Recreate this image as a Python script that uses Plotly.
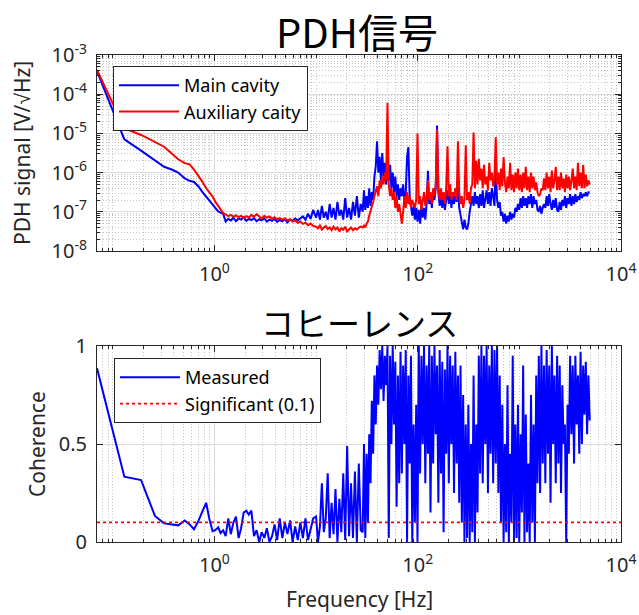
import plotly.graph_objects as go

# ---------------------------------------------------------------- data
# Frequency bins [Hz] (finer spacing above ~30 Hz)
freq = [
    # 0.07 - 1.15 Hz
    0.07, 0.13, 0.19, 0.26, 0.32, 0.38, 0.44, 0.51, 0.57, 0.63,
    0.70, 0.76, 0.83, 0.89, 0.96, 1.02, 1.09, 1.15,
    # 1.2 - 10 Hz
    1.22, 1.29, 1.37, 1.45, 1.54, 1.63, 1.73, 1.83, 1.94, 2.06,
    2.18, 2.31, 2.45, 2.60, 2.76, 2.92, 3.10, 3.28, 3.48, 3.69,
    3.91, 4.14, 4.39, 4.66, 4.94, 5.23, 5.55, 5.88, 6.23, 6.61,
    7.00, 7.42, 7.87, 8.34, 8.84, 9.37,
    # 10 - 28 Hz
    10.0, 10.45, 10.92, 11.41, 11.92, 12.46, 13.02, 13.61, 14.22, 14.86,
    15.53, 16.23, 16.96, 17.72, 18.52, 19.35, 20.22, 21.13, 22.08, 23.08,
    24.12, 25.2, 26.34, 27.52,
    # 28 Hz - 5 kHz
    28.76, 29.62, 30.51, 31.43, 32.37, 33.34, 34.34, 35.37, 36.43, 37.53,
    38.65, 39.81, 41.01, 42.24, 43.5, 44.81, 46.15, 47.54, 48.96, 50.43,
    51.95, 53.5, 55.11, 56.76, 58.47, 60.22, 62.02, 63.89, 65.8, 67.78,
    69.81, 71.9, 74.06, 76.28, 78.57, 80.93, 83.36, 85.86, 88.43, 91.09,
    93.82, 96.63, 99.53, 102.5, 105.6, 108.8, 112.0, 115.4, 118.8, 122.4,
    126.1, 129.8, 133.7, 137.8, 141.9, 146.1, 150.5, 155.0, 159.7, 164.5,
    169.4, 174.5, 179.7, 185.1, 190.7, 196.4, 202.3, 208.4, 214.6, 221.0,
    227.7, 234.5, 241.5, 248.8, 256.2, 263.9, 271.8, 280.0, 288.4, 297.0,
    305.9, 315.1, 324.6, 334.3, 344.3, 354.7, 365.3, 376.2, 387.5, 399.2,
    411.1, 423.5, 436.2, 449.2, 462.7, 476.6, 490.9, 505.6, 520.8, 536.4,
    552.5, 569.1, 586.1, 603.7, 621.8, 640.5, 659.7, 679.5, 699.9, 720.9,
    742.5, 764.8, 787.7, 811.4, 835.7, 860.8, 886.6, 913.2, 940.6, 968.8,
    997.9, 1028, 1059, 1090, 1123, 1157, 1191, 1227, 1264, 1302,
    1341, 1381, 1422, 1465, 1509, 1554, 1601, 1649, 1698, 1749,
    1802, 1856, 1911, 1969, 2028, 2088, 2151, 2216, 2282, 2351,
    2421, 2494, 2569, 2646, 2725, 2807, 2891, 2978, 3067, 3159,
    3254, 3352, 3452, 3556, 3662, 3772, 3886, 4002, 4122, 4246,
    4373, 4505, 4640, 4779, 4922,
]

# PDH error-signal ASD of the main cavity [V/sqrt(Hz)]
main_cavity = [
    3.8e-4, 7.08e-6, 3.63e-6, 2.0e-6, 1.41e-6, 1.2e-6, 1.0e-6, 7.08e-7, 6.17e-7, 5.75e-7,
    4.37e-7, 3.24e-7, 2.45e-7, 1.91e-7, 1.48e-7, 1.2e-7, 1.02e-7, 9.55e-8,
    8.91e-8, 5.62e-8, 6.61e-8, 6.03e-8, 7.08e-8, 5.75e-8, 6.76e-8, 6.31e-8, 7.24e-8, 5.89e-8,
    6.61e-8, 6.17e-8, 6.92e-8, 5.75e-8, 6.46e-8, 6.03e-8, 6.76e-8, 5.62e-8, 6.31e-8, 5.89e-8,
    6.61e-8, 5.5e-8, 6.17e-8, 5.75e-8, 6.46e-8, 5.37e-8, 6.31e-8, 5.89e-8, 6.76e-8, 6.03e-8,
    6.61e-8, 7.59e-8, 6.31e-8, 8.91e-8, 6.61e-8, 1.12e-7,
    7.08e-8, 1.12e-7, 6.31e-8, 1.41e-7, 7.08e-8, 1.0e-7, 6.31e-8, 1.58e-7, 7.08e-8, 1.26e-7,
    6.31e-8, 1.78e-7, 7.94e-8, 1.12e-7, 6.31e-8, 2.24e-7, 7.08e-8, 1.26e-7, 6.31e-8, 1.78e-7,
    7.94e-8, 2.51e-7, 7.08e-8, 1.58e-7,
    1.0e-7, 3.55e-7, 1.12e-7, 2.51e-7, 1.26e-7, 3.98e-7, 1.41e-7, 3.16e-7, 2.0e-7, 7.94e-7,
    1.41e-6, 6.31e-6, 1.0e-6, 2.51e-6, 6.31e-7, 3.16e-6, 7.94e-7, 1.78e-6, 5.01e-7, 1.26e-6,
    6.31e-7, 1.58e-6, 3.98e-7, 1.0e-6, 3.16e-7, 7.94e-7, 2.51e-7, 5.01e-7, 2.0e-7, 3.98e-7,
    2.51e-7, 5.01e-7, 1.78e-7, 3.16e-7, 2.51e-6, 4.47e-6, 2.51e-7, 1.26e-7, 7.94e-8, 1.41e-7,
    6.31e-8, 1.26e-7, 5.62e-8, 1.12e-7, 5.01e-8, 1.41e-7, 7.08e-8, 1.26e-7, 6.31e-8, 1.58e-7,
    1.12e-6, 1.58e-7, 2.51e-7, 1.26e-7, 3.16e-7, 2.0e-7, 3.98e-7, 1.58e-5, 3.16e-7, 1.41e-7,
    2.51e-7, 1.26e-7, 2.82e-7, 1.12e-7, 2.51e-7, 3.55e-7, 1.58e-7, 3.16e-7, 1.26e-7, 2.51e-7,
    1.58e-7, 3.16e-7, 1.78e-7, 4.47e-7, 1.26e-7, 7.94e-8, 5.01e-8, 3.55e-8, 6.31e-8, 3.98e-8,
    3.55e-8, 5.01e-8, 1.0e-7, 1.58e-7, 2.51e-7, 1.41e-7, 3.16e-7, 1.58e-7, 2.51e-7, 1.26e-7,
    2.82e-7, 1.41e-7, 3.55e-7, 1.26e-7, 2.51e-7, 3.55e-7, 1.58e-7, 3.16e-7, 1.41e-7, 3.98e-7,
    2.51e-7, 1.41e-7, 1.58e-6, 2.0e-7, 1.26e-7, 1.78e-7, 7.94e-8, 1.0e-7, 5.62e-8, 8.91e-8,
    5.01e-8, 7.94e-8, 5.62e-8, 1.0e-7, 6.31e-8, 8.91e-8, 7.08e-8, 1.26e-7, 1.0e-7, 1.58e-7,
    1.12e-7, 2.24e-7, 1.26e-7, 2.51e-7, 1.41e-7, 2.24e-7, 1.26e-7, 2.51e-7, 1.58e-7, 2.82e-7,
    1.26e-7, 2.51e-7, 1.58e-7, 2.0e-7, 1.12e-7, 1.0e-7, 1.41e-7, 8.91e-8, 1.26e-7, 1.58e-7,
    1.26e-7, 2.51e-7, 1.41e-7, 2.82e-7, 1.58e-7, 1.12e-7, 2.0e-7, 1.26e-7, 2.24e-7, 1.12e-7,
    1.0e-7, 1.78e-7, 1.12e-7, 2.0e-7, 1.41e-7, 2.51e-7, 1.26e-7, 2.24e-7, 1.58e-7, 2.82e-7,
    1.41e-7, 2.51e-7, 1.58e-7, 2.82e-7, 1.78e-7, 2.51e-7, 2.0e-7, 3.16e-7, 2.24e-7, 2.82e-7,
    2.51e-7, 3.16e-7, 2.51e-7, 3.16e-7, 3.16e-7,
]

# PDH error-signal ASD of the auxiliary cavity [V/sqrt(Hz)]
aux_cavity = [
    4.17e-4, 1.35e-5, 9.12e-6, 6.17e-6, 4.57e-6, 3.09e-6, 2.19e-6, 1.74e-6, 1.62e-6, 1.2e-6,
    8.13e-7, 5.89e-7, 3.98e-7, 3.09e-7, 2.45e-7, 1.82e-7, 1.35e-7, 1.15e-7,
    9.33e-8, 8.71e-8, 7.76e-8, 8.32e-8, 7.41e-8, 8.13e-8, 7.24e-8, 7.94e-8, 6.92e-8, 7.76e-8,
    7.08e-8, 8.32e-8, 7.41e-8, 8.71e-8, 7.59e-8, 6.76e-8, 7.94e-8, 7.08e-8, 7.59e-8, 6.61e-8,
    7.24e-8, 6.46e-8, 6.92e-8, 6.31e-8, 6.76e-8, 6.03e-8, 6.46e-8, 5.62e-8, 6.03e-8, 5.25e-8,
    5.62e-8, 4.9e-8, 5.25e-8, 4.57e-8, 5.01e-8, 4.37e-8,
    4.17e-8, 3.8e-8, 4.47e-8, 3.55e-8, 3.98e-8, 4.37e-8, 3.63e-8, 3.98e-8, 3.39e-8, 4.17e-8,
    3.55e-8, 3.98e-8, 3.16e-8, 3.8e-8, 3.47e-8, 4.17e-8, 3.16e-8, 3.63e-8, 3.98e-8, 3.39e-8,
    3.8e-8, 3.55e-8, 3.98e-8, 4.17e-8,
    3.98e-8, 4.47e-8, 3.98e-8, 5.01e-8, 5.62e-8, 7.94e-8, 1.0e-7, 1.41e-7, 1.78e-7, 2.51e-7,
    3.16e-7, 4.47e-7, 2.51e-7, 6.31e-7, 3.98e-7, 7.94e-7, 5.01e-7, 1.0e-6, 6.31e-7, 6.03e-5,
    5.01e-7, 2.51e-7, 3.98e-7, 2.0e-7, 3.16e-7, 1.26e-7, 2.51e-7, 1.0e-7, 1.58e-7, 7.94e-8,
    5.01e-8, 1.0e-7, 2.51e-7, 1.26e-7, 3.16e-7, 1.58e-7, 2.51e-7, 1.26e-7, 2.0e-7, 1.58e-7,
    1.26e-7, 2.0e-7, 1.0e-5, 1.58e-7, 2.51e-7, 1.12e-7, 2.0e-7, 3.16e-7, 1.41e-7, 2.51e-7,
    6.31e-7, 2.0e-7, 3.16e-7, 1.58e-7, 3.98e-7, 2.51e-7, 5.01e-7, 1.26e-5, 3.98e-7, 2.0e-7,
    3.98e-7, 2.0e-7, 3.16e-7, 1.58e-7, 3.98e-7, 4.68e-6, 2.51e-7, 5.01e-7, 2.0e-7, 3.16e-7,
    2.51e-7, 3.98e-7, 2.0e-7, 6.31e-6, 3.16e-7, 1.58e-7, 2.51e-7, 1.26e-7, 2.0e-7, 5.01e-6,
    2.0e-7, 3.16e-7, 1.58e-7, 3.98e-7, 5.01e-7, 1.05e-5, 3.98e-7, 2.0e-6, 5.01e-7, 2.24e-6,
    6.31e-7, 1.26e-6, 3.98e-7, 1.58e-6, 5.01e-7, 7.94e-7, 3.55e-7, 1.78e-6, 6.31e-7, 1.0e-6,
    4.47e-7, 7.94e-7, 7.94e-6, 5.01e-7, 1.0e-6, 3.55e-7, 1.26e-6, 4.47e-7, 2.51e-6, 5.62e-7,
    3.16e-7, 7.94e-7, 3.98e-7, 1.78e-6, 3.55e-7, 8.91e-7, 3.16e-7, 1.0e-6, 3.98e-7, 1.26e-6,
    3.55e-7, 8.91e-7, 3.16e-7, 1.0e-6, 3.98e-7, 1.41e-6, 3.55e-7, 7.94e-7, 3.16e-7, 1.0e-6,
    3.98e-7, 7.94e-7, 3.55e-7, 5.62e-7, 3.16e-7, 2.51e-7, 2.82e-7, 3.98e-7, 3.55e-7, 7.08e-7,
    3.55e-7, 1.0e-6, 3.98e-7, 7.94e-7, 3.16e-7, 1.12e-6, 3.98e-7, 6.31e-7, 1.41e-6, 3.55e-7,
    7.94e-7, 3.55e-7, 1.0e-6, 3.98e-7, 7.08e-7, 3.16e-7, 8.91e-7, 3.98e-7, 7.94e-7, 3.55e-7,
    6.31e-7, 1.26e-6, 3.98e-7, 7.94e-7, 3.55e-7, 1.78e-6, 4.47e-7, 1.0e-6, 3.98e-7, 1.58e-6,
    3.98e-7, 8.91e-7, 4.47e-7, 6.31e-7, 5.01e-7,
]

# Magnitude-squared coherence between the two PDH signals
coherence = [
    0.886, 0.333, 0.316, 0.133, 0.095, 0.09, 0.085, 0.11, 0.09, 0.065,
    0.11, 0.155, 0.2, 0.12, 0.055, 0.06, 0.075, 0.045,
    0.06, 0.03, 0.12, 0.04, 0.1, 0.13, 0.02, 0.07, 0.15, 0.16,
    0.14, 0.16, 0.03, 0.06, 0.0, 0.05, 0.02, 0.07, 0.0, 0.03,
    0.09, 0.01, 0.12, 0.02, 0.1, 0.04, 0.11, 0.0, 0.08, 0.01,
    0.1, 0.02, 0.12, 0.01, 0.06, 0.12,
    0.13, 0.0, 0.08, 0.3, 0.05, 0.12, 0.35, 0.02, 0.2, 0.04,
    0.27, 0.0, 0.22, 0.05, 0.35, 0.01, 0.49, 0.03, 0.3, 0.02,
    0.36, 0.0, 0.4, 0.06,
    0.05, 0.5, 0.02, 0.45, 0.1, 0.55, 0.3, 0.72, 0.45, 0.85,
    0.6, 0.9, 0.7, 0.98, 0.78, 1.0, 0.72, 0.95, 0.8, 1.0,
    0.02, 0.95, 0.5, 1.0, 0.6, 0.92, 0.18, 0.85, 0.3, 0.97,
    0.35, 0.9, 0.5, 0.98, 0.0, 0.85, 0.4, 0.95, 0.0, 0.6,
    0.1, 0.7, 0.0, 1.0, 0.35, 0.95, 0.5, 1.0, 0.3, 0.9,
    0.45, 1.0, 0.15, 0.95, 0.4, 1.0, 0.55, 0.9, 0.2, 0.98,
    0.35, 0.92, 0.05, 0.88, 0.45, 1.0, 0.3, 0.95, 0.5, 0.9,
    0.25, 0.97, 0.4, 0.85, 0.2, 0.9, 0.1, 0.75, 0.0, 0.6,
    0.02, 0.7, 0.0, 0.5, 0.05, 0.85, 0.0, 0.6, 0.15, 0.95,
    0.35, 1.0, 0.3, 0.95, 0.5, 1.0, 0.25, 0.9, 0.45, 1.0,
    0.3, 0.98, 0.4, 1.0, 0.25, 0.85, 0.1, 0.7, 0.0, 0.5,
    0.05, 0.8, 0.0, 0.45, 0.1, 0.95, 0.0, 0.6, 0.02, 0.7,
    0.0, 0.55, 0.15, 0.9, 0.0, 0.65, 0.05, 0.4, 0.0, 0.75,
    0.1, 0.6, 0.0, 0.85, 0.3, 0.95, 0.25, 1.0, 0.4, 0.9,
    0.3, 0.98, 0.45, 0.9, 0.2, 1.0, 0.5, 0.85, 0.3, 0.95,
    0.4, 0.9, 0.25, 0.8, 0.5, 0.6, 0.0, 0.7, 0.45, 0.95,
    0.55, 0.9, 0.4, 0.95, 0.6, 0.85, 0.45, 0.97, 0.5, 0.9,
    0.65, 0.92, 0.55, 0.85, 0.62,
]

significance_level = 0.1

freq_limits = [0.07, 1e4]
psd_decades = [-8, -7, -6, -5, -4, -3]
x_label_decades = [0, 2, 4]
coh_ticks = [0, 0.5, 1]

# ---------------------------------------------------------------- style
INK = "#262626"
GRID = "#dadada"
MINOR_GRID = "#c4c4c4"
LATIN = "Noto Sans, Noto Sans CJK JP, sans-serif"
CJK = "Noto Sans CJK JP, Noto Sans, sans-serif"

W, H = 639, 615
X_DOM = [97 / W, 621 / W]
Y_TOP = [1 - 251 / H, 1 - 55 / H]
Y_BOT = [1 - 542 / H, 1 - 346 / H]


def sup(e):
    return f"10<sup>{e}</sup>"


# minor grid / tick positions for the log axes
x_minor = []
for e in range(-2, 4):
    for k in range(1, 10):
        v = k * 10.0 ** e
        if k == 1 and e in x_label_decades:
            continue
        if freq_limits[0] <= v <= freq_limits[1]:
            x_minor.append(v)

y_minor = [k * 10.0 ** e for e in range(-8, -3) for k in range(2, 10)]

tickfont = dict(family=LATIN, size=20, color=INK)


def x_axis(domain, anchor):
    return dict(
        type="log", domain=domain, anchor=anchor,
        range=[-1.155, 4],
        tickvals=[10.0 ** e for e in x_label_decades],
        ticktext=[sup(e) for e in x_label_decades],
        tickfont=tickfont, ticks="inside", ticklen=6, tickcolor=INK,
        showline=True, linecolor=INK, linewidth=1, mirror="allticks",
        showgrid=True, gridcolor=GRID, gridwidth=1,
        minor=dict(tickvals=x_minor, ticks="inside", ticklen=3, tickcolor=INK,
                   showgrid=True, gridcolor=MINOR_GRID, griddash="1px,2px",
                   gridwidth=1),
        zeroline=False, automargin=False, ticklabelstandoff=5,
    )


fig = go.Figure()

# PDH spectra
fig.add_trace(go.Scatter(
    x=freq, y=main_cavity, mode="lines", name="Main cavity",
    line=dict(color="#0000ff", width=2), xaxis="x", yaxis="y",
    legend="legend",
))
fig.add_trace(go.Scatter(
    x=freq, y=aux_cavity, mode="lines", name="Auxiliary caity",
    line=dict(color="#ff0000", width=2), xaxis="x", yaxis="y",
    legend="legend",
))

# coherence
fig.add_trace(go.Scatter(
    x=freq, y=coherence, mode="lines", name="Measured",
    line=dict(color="#0000ff", width=2), xaxis="x2", yaxis="y2",
    legend="legend2",
))
fig.add_trace(go.Scatter(
    x=freq_limits, y=[significance_level, significance_level], mode="lines",
    name=f"Significant ({significance_level})",
    line=dict(color="#ff0000", width=1.8, dash="dot"), xaxis="x2", yaxis="y2",
    legend="legend2",
))

legend_common = dict(
    xanchor="left", yanchor="top", bgcolor="white",
    bordercolor=INK, borderwidth=1,
    font=dict(family=LATIN, size=18, color="black"),
    itemwidth=60, tracegroupgap=0,
)

ROOT = "<span style=\"font-family:'Liberation Sans'\">√</span>"

fig.update_layout(
    width=W, height=H,
    margin=dict(l=0, r=0, t=0, b=0),
    paper_bgcolor="white", plot_bgcolor="white",
    showlegend=True,
    xaxis=x_axis(X_DOM, "y"),
    xaxis2=x_axis(X_DOM, "y2"),
    yaxis=dict(
        type="log", domain=Y_TOP, anchor="x", range=[-8, -3],
        tickvals=[10.0 ** e for e in psd_decades],
        ticktext=[sup(e) for e in psd_decades],
        tickfont=tickfont, ticks="inside", ticklen=6, tickcolor=INK,
        showline=True, linecolor=INK, linewidth=1, mirror="allticks",
        showgrid=True, gridcolor=GRID, gridwidth=1,
        minor=dict(tickvals=y_minor, ticks="inside", ticklen=3, tickcolor=INK,
                   showgrid=True, gridcolor=MINOR_GRID, griddash="1px,2px",
                   gridwidth=1),
        zeroline=False, automargin=False, ticklabelstandoff=5,
    ),
    yaxis2=dict(
        domain=Y_BOT, anchor="x2", range=[0, 1],
        tickvals=coh_ticks, ticktext=[f"{v:g}" for v in coh_ticks],
        tickfont=tickfont, ticks="inside", ticklen=6, tickcolor=INK,
        showline=True, linecolor=INK, linewidth=1, mirror="allticks",
        showgrid=True, gridcolor=GRID, gridwidth=1,
        zeroline=False, automargin=False, ticklabelstandoff=5,
    ),
    legend=dict(x=113 / W, y=1 - 66 / H, **legend_common),
    legend2=dict(x=114 / W, y=1 - 358 / H, **legend_common),
    annotations=[
        dict(text="PDH信号", x=357 / W, y=1 - 31 / H, xref="paper", yref="paper",
             showarrow=False, xanchor="center", yanchor="middle",
             font=dict(family=CJK, size=40, color="black")),
        dict(text="コヒーレンス", x=359 / W, y=1 - 322 / H, xref="paper", yref="paper",
             showarrow=False, xanchor="center", yanchor="middle",
             font=dict(family=CJK, size=33, color="black")),
        dict(text=f"PDH signal [V/{ROOT}Hz]", x=22 / W, y=1 - 153 / H, xref="paper",
             yref="paper", showarrow=False, textangle=-90, xanchor="center",
             yanchor="middle", font=dict(family=LATIN, size=21, color=INK)),
        dict(text="Coherence", x=37 / W, y=1 - 444 / H, xref="paper",
             yref="paper", showarrow=False, textangle=-90, xanchor="center",
             yanchor="middle", font=dict(family=LATIN, size=21, color=INK)),
        dict(text="Frequency [Hz]", x=359 / W, y=1 - 599 / H, xref="paper",
             yref="paper", showarrow=False, xanchor="center", yanchor="middle",
             font=dict(family=LATIN, size=21, color=INK)),
    ],
)

fig.write_html("out.html")
